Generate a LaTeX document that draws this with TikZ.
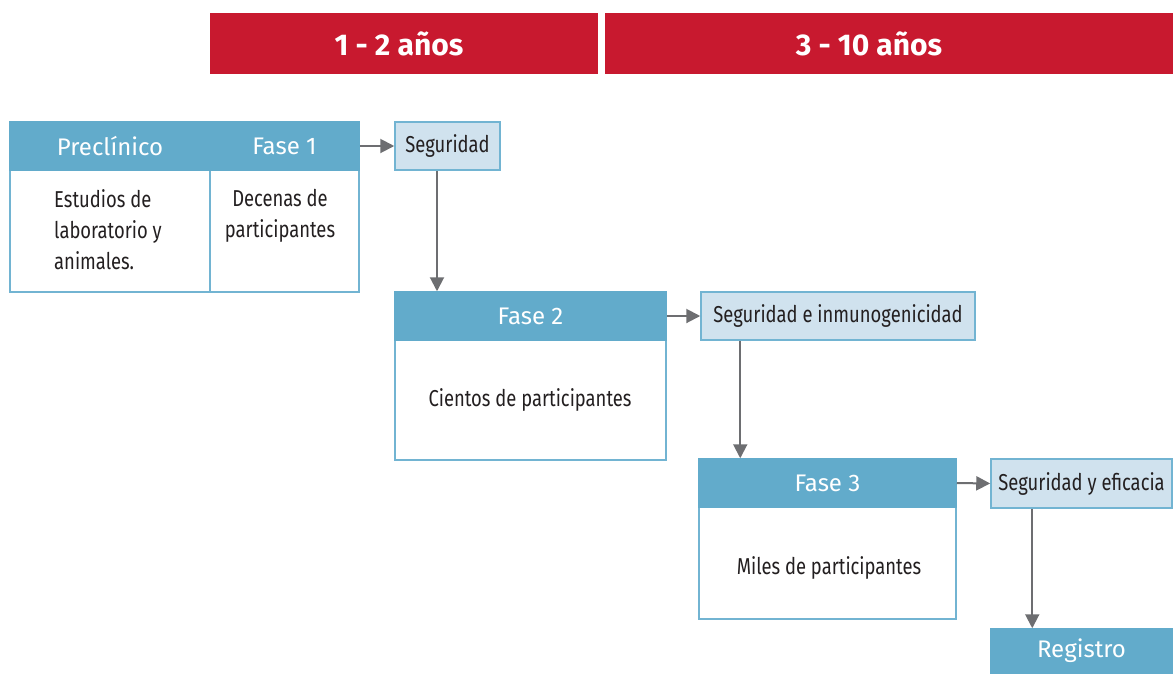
\documentclass[tikz,border=0pt]{standalone}
\usepackage{fontspec}
\setmainfont{Fira Sans}
\newfontfamily\cond[FakeStretch=0.8]{Fira Sans}
\usepackage{tikz}
\usetikzlibrary{arrows.meta}
\definecolor{rojo}{HTML}{C8192F}
\definecolor{azul}{HTML}{62ABCB}
\definecolor{celeste}{HTML}{D0E2EE}
\definecolor{borde}{HTML}{72B4D2}
\definecolor{gris}{HTML}{6D6E71}
\definecolor{tinta}{HTML}{231F20}
\begin{document}
\begin{tikzpicture}[x=1pt, y=-1pt,
  barra/.style={fill=rojo, inner sep=0pt, minimum height=61pt},
  titulo/.style={text=white, inner sep=0pt, font=\fontsize{30}{32}\selectfont\bfseries},
  cabeza/.style={fill=azul, draw=azul, line width=1.5pt, text=white, inner sep=0pt, minimum height=48pt, font=\fontsize{24}{28}\selectfont},
  cuerpo/.style={draw=borde, line width=1.5pt, fill=white, inner sep=0pt},
  nota/.style={fill=celeste, draw=borde, line width=1.5pt, text=tinta, inner sep=0pt, minimum height=48pt, font=\cond\fontsize{23}{31}\selectfont},
  texto/.style={text=tinta, inner sep=0pt, font=\cond\fontsize{23}{31}\selectfont},
  flecha/.style={draw=gris, line width=2pt, -{Triangle[length=14pt,width=14pt]}}]
\useasboundingbox (0,0) rectangle (1173,673);
% años
\node[barra, minimum width=388pt] (anos1) at (404,43.5) {};
\node[barra, minimum width=568pt] (anos2) at (889,43.5) {};
\node[titulo] (t1) at ([xshift=-5pt]anos1) {1 - 2 años};
\node[titulo] (t2) at ([xshift=-20pt]anos2) {3 - 10 años};
% preclinico y fase 1
\node[cuerpo, minimum width=200pt, minimum height=122pt] (precuerpo) at (110,231) {};
\node[cuerpo, minimum width=149pt, minimum height=122pt] (f1cuerpo) at (284.5,231) {};
\node[cabeza, minimum width=200pt] (pre) at (110,146) {Preclínico};
\node[cabeza, minimum width=149pt] (fase1) at (284.5,146) {Fase 1};
\node[texto, anchor=north, align=left] (estudios) at (108,189) {Estudios de\\laboratorio y\\animales.};
\node[texto, anchor=north, align=center] (decenas) at (280,189) {Decenas de\\participantes};
\node[nota, minimum width=105pt] (seg1) at (447.5,146) {Seguridad};
% fase 2
\node[cuerpo, minimum width=271pt, minimum height=120pt] (f2cuerpo) at (530.5,400) {};
\node[cabeza, minimum width=271pt] (fase2) at (530.5,316) {Fase 2};
\node[texto] (cientos) at (530,400) {Cientos de participantes};
\node[nota, minimum width=274pt] (seg2) at (838,316) {Seguridad e inmunogenicidad};
% fase 3
\node[cuerpo, minimum width=257pt, minimum height=112pt] (f3cuerpo) at (827.5,563) {};
\node[cabeza, minimum width=257pt] (fase3) at (827.5,483) {Fase 3};
\node[texto] (miles) at (829,568) {Miles de participantes};
\node[nota, minimum width=181pt, minimum height=49pt] (seg3) at (1081.5,483.5) {Seguridad y eficacia};
\node[cabeza, minimum width=181pt, minimum height=44pt] (registro) at (1081.5,651) {Registro};
% flechas
\draw[flecha] (fase1.east) -- (seg1.west);
\draw[flecha] ([xshift=-10.5pt]seg1.south) -- ([xshift=-10.5pt]seg1.south |- fase2.north);
\draw[flecha] (fase2.east) -- (seg2.west);
\draw[flecha] ([xshift=40pt]seg2.south west) -- ([xshift=40pt]seg2.south west |- fase3.north);
\draw[flecha] (fase3.east) -- (seg3.west);
\draw[flecha] ([xshift=42pt]seg3.south west) -- ([xshift=42pt]seg3.south west |- registro.north);
\end{tikzpicture}
\end{document}
